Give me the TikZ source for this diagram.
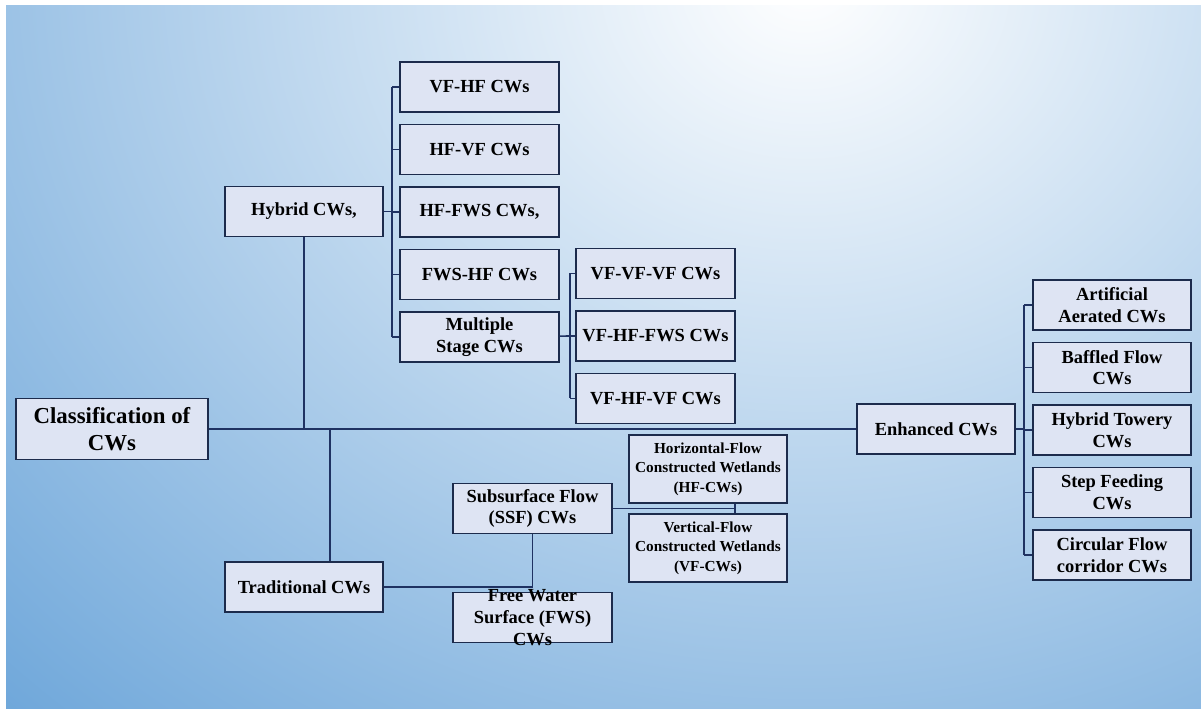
\documentclass[tikz,border=0pt]{standalone}
\usepackage{fontspec}
\setmainfont{Liberation Serif}
\usetikzlibrary{positioning}
\definecolor{bgblue}{HTML}{5B9BD5}
\definecolor{boxfill}{HTML}{DEE4F3}
\definecolor{boxline}{HTML}{1C2B4C}
\definecolor{linkline}{HTML}{1F3262}
\tikzstyle{cwbox} = [rectangle, minimum width=3.17cm, minimum height=1cm, inner sep=1pt, align=center, draw=boxline, line width=0.9pt, fill=boxfill, font=\bfseries\fontsize{10.5}{12.3}\selectfont]
\tikzstyle{rootbox} = [cwbox, minimum width=3.84cm, minimum height=1.22cm, font=\bfseries\fontsize{13}{15.3}\selectfont]
\tikzstyle{wetbox} = [cwbox, minimum height=1.36cm, font=\bfseries\fontsize{8.7}{11}\selectfont]
\tikzstyle{overtext} = [align=center, inner sep=0pt, font=\bfseries\fontsize{10.5}{12.3}\selectfont]
\tikzstyle{link} = [draw=linkline, line width=0.9pt]

\begin{document}
\begin{tikzpicture}[x=0.02cm, y=-0.02cm, node distance=1.25cm]

% Background
\useasboundingbox (0,0) rectangle (1201,709);
\fill[white] (0,0) rectangle (1201,709);
\fill[bgblue] (6,6) rectangle (1201,709);
\begin{scope}
  \clip (6,6) rectangle (1201,709);
  \shade[inner color=white, outer color=bgblue, xscale=1.15] (700,-20) circle (1150);
\end{scope}

% Nodes
\node (class) [rootbox] at (112,429) {Classification of\\CWs};
\node (hybrid) [cwbox] at (304,211.5) {Hybrid CWs,};
\node (trad) [cwbox] at (304,587) {Traditional CWs};
\node (enh) [cwbox] at (936,429) {Enhanced CWs};

\node (vfhf) [cwbox] at (479.5,87) {VF-HF CWs};
\node (hfvf) [cwbox, below of=vfhf] {HF-VF CWs};
\node (hffws) [cwbox, below of=hfvf] {HF-FWS CWs,};
\node (fwshf) [cwbox, below of=hffws] {FWS-HF CWs};
\node (multi) [cwbox, below of=fwshf] {Multiple\\Stage CWs};

\node (vfvfvf) [cwbox] at (655.5,273.5) {VF-VF-VF CWs};
\node (vfhffws) [cwbox, below of=vfvfvf] {VF-HF-FWS CWs};
\node (vfhfvf) [cwbox, below of=vfhffws] {VF-HF-VF CWs};

\node (art) [cwbox] at (1112,305) {Artificial\\Aerated CWs};
\node (baf) [cwbox, below of=art] {Baffled Flow\\CWs};
\node (tow) [cwbox, below of=baf] {Hybrid Towery\\CWs};
\node (stepf) [cwbox, below of=tow] {Step Feeding\\CWs};
\node (circ) [cwbox, below of=stepf] {Circular Flow\\corridor CWs};

\node (ssf) [cwbox] at (532.5,508.5) {Subsurface Flow\\(SSF) CWs};
\node (fws) [cwbox, label={[overtext]center:Free Water\\Surface (FWS)\\CWs}] at (532.5,617.5) {};
\node (hfcw) [wetbox] at (708,469) {Horizontal-Flow\\Constructed Wetlands\\(HF-CWs)};
\node (vfcw) [wetbox] at (708,548) {Vertical-Flow\\Constructed Wetlands\\(VF-CWs)};

% Junctions
\coordinate (hybus) at (392,211.5);
\coordinate (msbus) at (570,336);
\coordinate (enbus) at (1024,429);
\coordinate (tradjoin) at (330,429);
\coordinate (ssfjoin) at (735,508.5);
\coordinate (fwsjoin) at (532.5,587);

% Lines
\draw [link] (class) -- (enh);
\draw [link] (hybrid) -- (hybrid |- class.east);
\draw [link] (tradjoin) -- (tradjoin |- trad.north);

\draw [link] (hybrid) -- (hybus);
\draw [link] (vfhf.west -| hybus) -- (multi.west -| hybus);
\draw [link] (vfhf.west -| hybus) -- (vfhf);
\draw [link] (hfvf.west -| hybus) -- (hfvf);
\draw [link] (hffws.west -| hybus) -- (hffws);
\draw [link] (fwshf.west -| hybus) -- (fwshf);
\draw [link] (multi.west -| hybus) -- (multi);

\draw [link] (multi) -- (msbus);
\draw [link] (vfvfvf.west -| msbus) -- (vfhfvf.west -| msbus);
\draw [link] (vfvfvf.west -| msbus) -- (vfvfvf);
\draw [link] (vfhffws.west -| msbus) -- (vfhffws);
\draw [link] (vfhfvf.west -| msbus) -- (vfhfvf);

\draw [link] (enh) -- (enbus);
\draw [link] (art.west -| enbus) -- (circ.west -| enbus);
\draw [link] (art.west -| enbus) -- (art);
\draw [link] (baf.west -| enbus) -- (baf);
\draw [link] (tow.west -| enbus) -- (tow);
\draw [link] (stepf.west -| enbus) -- (stepf);
\draw [link] (circ.west -| enbus) -- (circ);

\draw [link] (ssf) -- (ssfjoin);
\draw [link] (hfcw.south -| ssfjoin) -- (vfcw.north -| ssfjoin);
\draw [link] (ssf) -- (fwsjoin);
\draw [link] (trad) -- (fwsjoin);

\end{tikzpicture}
\end{document}
